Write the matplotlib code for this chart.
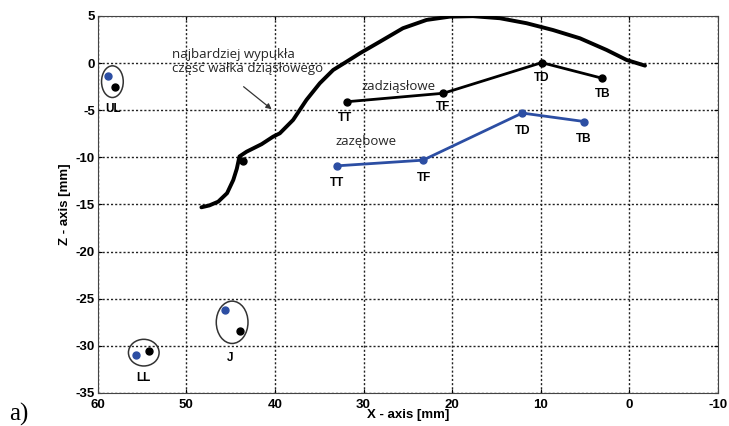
import numpy as np
import matplotlib.pyplot as plt
from matplotlib.patches import Ellipse

plt.rcParams['axes.unicode_minus'] = False

# gum ridge profile (X, Z)
ridge_x = [48.3, 47.4, 46.4, 45.4, 44.7, 44.3, 44.0, 43.2, 41.5, 40.2, 39.45, 37.95,
           36.44, 34.94, 33.43, 31.92, 30.42, 28.16, 25.56, 22.89, 20.26, 17.66,
           14.61, 11.60, 8.63, 5.58, 2.57, 0.31, -1.76]
ridge_z = [-15.3, -15.1, -14.7, -13.8, -12.4, -11.2, -9.9, -9.4, -8.6, -7.8, -7.45, -6.03,
           -3.9, -2.14, -0.73, 0.15, 1.04, 2.27, 3.70, 4.58, 4.93, 4.98,
           4.76, 4.23, 3.51, 2.63, 1.39, 0.33, -0.27]
ridge_dot = (43.6, -10.4)

points = ['TT', 'TF', 'TD', 'TB']
gum_x = [31.9, 21.0, 9.9, 3.1]
gum_z = [-4.1, -3.2, 0.05, -1.6]
teeth_x = [33.0, 23.3, 12.1, 5.1]
teeth_z = [-10.9, -10.3, -5.3, -6.2]

# landmark pairs: (blue, black), ellipse, label
lm_names = ['UL', 'LL', 'J']
lm_blue = [(58.8, -1.37), (55.7, -30.97), (45.66, -26.19)]
lm_black = [(58.08, -2.57), (54.24, -30.5), (43.89, -28.39)]
lm_ell = [(58.34, -1.97, 2.45, 3.36), (54.8, -30.72, 3.46, 2.83), (44.83, -27.5, 3.58, 4.49)]
lm_label = [(58.27, -4.9), (54.8, -33.4), (45.1, -31.3)]

blue = '#2c4ea3'
note_font = ['Open Sans', 'DejaVu Sans']
note_col = '#262626'

fig = plt.figure(figsize=(7.29, 4.26), dpi=100)
ax = fig.add_axes([0.134, 0.0775, 0.851, 0.885])

ax.plot(ridge_x, ridge_z, color='black', lw=2.8, solid_capstyle='round',
        solid_joinstyle='round', zorder=3)
ax.plot(*ridge_dot, 'o', color='black', ms=5, zorder=3)

ax.plot(gum_x, gum_z, '-o', color='black', lw=2, ms=5, zorder=3)
ax.plot(teeth_x, teeth_z, '-o', color=blue, lw=2, ms=5, zorder=3)

gum_lab_off = [(0.2, -1.7), (0.0, -1.5), (0.0, -1.65), (-0.1, -1.7)]
teeth_lab_off = [(0.0, -1.8), (-0.1, -1.85), (-0.1, -1.9), (0.1, -1.8)]
for name, x, z, (dx, dz) in zip(points, gum_x, gum_z, gum_lab_off):
    ax.text(x + dx, z + dz, name, ha='center', va='center', fontsize=8.5,
            fontweight='bold', family='Liberation Sans')
for name, x, z, (dx, dz) in zip(points, teeth_x, teeth_z, teeth_lab_off):
    ax.text(x + dx, z + dz, name, ha='center', va='center', fontsize=8.5,
            fontweight='bold', family='Liberation Sans')

for name, b, k, (cx, cy, w, h), (lx, ly) in zip(lm_names, lm_blue, lm_black, lm_ell, lm_label):
    ax.plot(*b, 'o', color=blue, ms=5, zorder=3)
    ax.plot(*k, 'o', color='black', ms=5, zorder=3)
    ax.add_patch(Ellipse((cx, cy), w, h, fill=False, ec='#333333', lw=1.1))
    ax.text(lx, ly, name, ha='center', va='center', fontsize=8.5,
            fontweight='bold', family='Liberation Sans')

ax.text(30.2, -2.43, 'zadziąsłowe', ha='left', va='center', fontsize=9.5,
        color=note_col, family=note_font)
ax.text(33.13, -8.37, 'zazębowe', ha='left', va='center', fontsize=9.5,
        color=note_col, family=note_font)
ax.text(51.65, 0.17, 'najbardziej wypukła\nczęść wałka dziąsłowego', ha='left',
        va='center', fontsize=9.5, color=note_col, family=note_font, linespacing=1.1)
ax.annotate('', xy=(40.13, -5.08), xytext=(43.78, -2.32),
            arrowprops=dict(arrowstyle='-|>', color='#333333', lw=0.9,
                            mutation_scale=8))

ax.set_xlim(60, -10)
ax.set_ylim(-35, 5)
ax.set_xticks(np.arange(60, -11, -10))
ax.set_yticks(np.arange(-35, 6, 5))
ax.grid(True, linestyle=(0, (1.5, 1.5)), color='#222222', lw=1)
ax.tick_params(direction='in', top=True, right=True, length=3, labelsize=9.5)
ax.tick_params(axis='x', pad=4)
ax.tick_params(axis='y', pad=2)
for lab in ax.get_xticklabels() + ax.get_yticklabels():
    lab.set_fontweight('bold')
    lab.set_family('Liberation Sans')
for s in ax.spines.values():
    s.set_color('#444444')

ax.set_xlabel('X - axis [mm]', fontsize=9.5, fontweight='bold', family='Liberation Sans', labelpad=-1)
ax.set_ylabel('Z - axis [mm]', fontsize=9.5, fontweight='bold', family='Liberation Sans', labelpad=3)

fig.text(0.012, 0.0, 'a)', fontsize=18, family='Liberation Serif', va='bottom', ha='left')

fig.savefig('out.png', dpi=100)
